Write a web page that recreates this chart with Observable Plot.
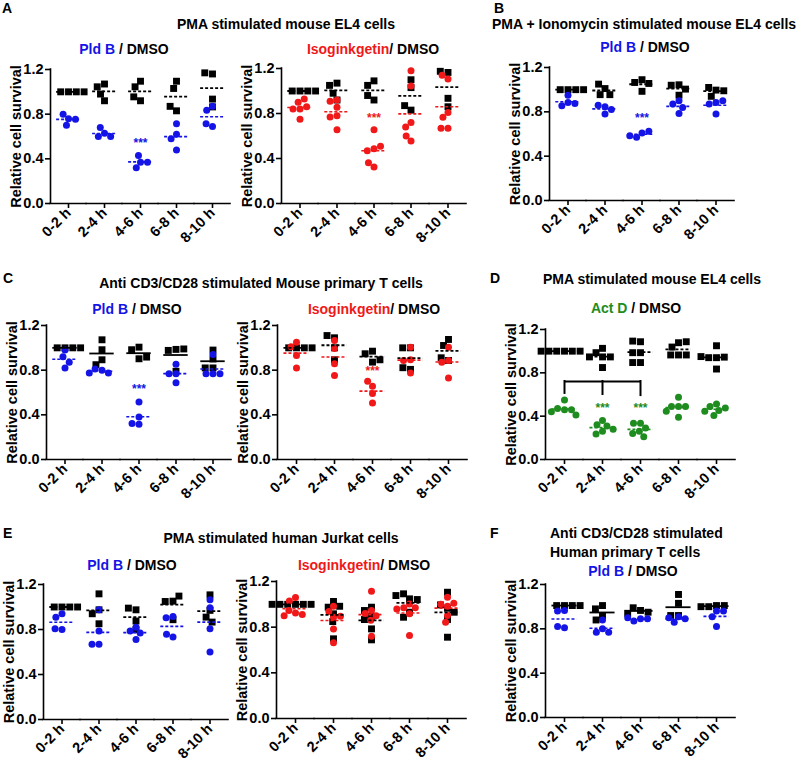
<!DOCTYPE html>
<html><head><meta charset="utf-8">
<script src="https://cdn.jsdelivr.net/npm/d3@7"></script>
<script src="https://cdn.jsdelivr.net/npm/@observablehq/plot@0.6"></script>
<style>
body{margin:0;background:#fff;}
#fig{position:relative;width:800px;height:768px;overflow:hidden;font-family:"Liberation Sans",Arial,sans-serif;font-weight:bold;color:#000;}
.t{position:absolute;white-space:nowrap;font-size:14px;line-height:1;}
.c{transform:translate(-50%,-50%);}
.l{transform:translateY(-50%);}
.panel{position:absolute;}
.panel svg{overflow:visible;}
.panel g[aria-label$="tick label"] text{font-size:14.5px !important;}
</style></head><body><div id="fig"></div>
<script>
// ---------- data ----------
const cats = ["0-2 h", "2-4 h", "4-6 h", "6-8 h", "8-10 h"];
const yTicks = [0, 0.4, 0.8, 1.2];

// A: PMA stimulated mouse EL4 cells
const A1_dmso = [[1.0,1.0,1.0,1.0],[1.07,1.045,0.92,0.98],[1.095,1.045,0.92,0.955],[1.095,1.03,0.83,0.87],[1.16,1.17,0.935,0.865]];
const A1_pldb = [[0.76,0.80,0.70,0.755],[0.63,0.68,0.60,0.60],[0.37,0.43,0.32,0.37],[0.62,0.715,0.58,0.48],[0.87,0.835,0.69,0.715]];
const A2_dmso = [[1.0,1.0,1.0,1.0],[1.07,1.05,0.92,0.98],[1.09,1.05,0.92,0.96],[1.10,1.03,0.83,0.87],[1.165,1.175,0.935,0.86]];
const A2_iso  = [[0.84,0.90,0.93,0.84,0.86,0.75],[0.92,0.855,0.91,0.78,0.77,0.655],[0.655,0.487,0.47,0.51,0.325,0.363],[1.18,1.045,0.72,0.68,0.555,0.60],[0.81,1.106,1.14,0.767,0.67,0.67]];
// B: PMA + Ionomycin
const B_dmso = [[1.0,1.0,1.0,1.0],[1.01,1.05,0.955,0.955],[1.09,1.065,0.985,1.056],[1.044,1.04,0.95,1.005],[0.996,1.02,0.94,0.99]];
const B_pldb = [[0.885,0.95,0.855,0.875],[0.846,0.86,0.78,0.82],[0.61,0.57,0.624,0.585],[0.90,0.87,0.786,0.84],[0.885,0.87,0.78,0.90]];
// C: Anti CD3/CD28 mouse primary T cells
const C1_dmso = [[1.0,1.0,1.0,1.0],[1.072,0.983,0.893,0.849],[1.006,0.983,0.902,0.917],[0.986,0.977,0.99,0.79],[0.98,0.90,0.82,0.82]];
const C1_pldb = [[0.98,0.92,0.82,0.87],[0.80,0.81,0.775,0.775],[0.38,0.515,0.316,0.322],[0.768,0.852,0.768,0.688],[0.94,0.768,0.768,0.768]];
const C2_dmso = [[1.0,1.0,1.0,1.0],[1.09,1.11,1.0,0.893],[0.97,0.947,0.872,0.893],[1.0,1.0,0.807,0.822],[1.075,1.021,0.887,0.911]];
const C2_iso  = [[1.05,0.932,0.819,1.01],[1.066,0.994,0.857,0.753],[0.655,0.70,0.59,0.506],[1.006,0.893,0.887,0.774],[0.887,1.006,0.87,0.73]];
// D: Act D
const D_dmso = [[1,1,1,1,1,1],[1.026,0.986,0.947,0.947,0.947,0.849],[0.986,1.087,1.093,0.895,0.895,0.986],[1.078,1.038,1.087,0.965,0.965,0.965],[1.05,0.94,0.94,0.945,0.835,0.95]];
const D_actd = [[0.55,0.46,0.47,0.46,0.44,0.41],[0.36,0.32,0.31,0.28,0.26,0.235],[0.335,0.335,0.29,0.26,0.24,0.21],[0.574,0.489,0.489,0.489,0.39,0.446],[0.513,0.489,0.452,0.476,0.446,0.406]];
const D_bracketTop = 0.72;
const D_bracketBottoms = [0.61, 0.60, 0.59];
// E: PMA stimulated human Jurkat cells
const E1_dmso = [[1.0,1.0,1.0,1.0],[0.975,1.117,0.94,0.851],[0.975,0.99,0.875,0.798],[1.052,1.049,1.097,0.887],[1.108,0.97,0.91,0.866]];
const E1_pldb = [[0.94,0.91,0.80,0.807],[0.975,0.786,0.668,0.668],[0.82,0.786,0.712,0.77],[0.916,0.905,0.733,0.757],[1.064,0.993,0.807,0.60]];
const E2_dmso = [[1,1,1,1,1,1],[1.025,0.917,0.975,0.983,0.849,0.698],[0.975,0.946,0.896,0.867,0.785,0.689],[1.048,1.092,1.042,1.077,0.931,0.887],[1.106,0.966,0.995,0.931,0.867,0.712]];
const E2_iso  = [[1.06,1.03,0.925,0.945,0.91,0.90],[0.983,0.937,0.887,0.785,0.663,0.895],[1.115,0.946,0.72,0.92,0.90,0.86],[0.917,1.004,0.969,0.727,0.97,0.96],[0.983,1.062,0.902,0.843,1.0,1.01]];
// F: Anti CD3/CD28 human primary T cells
const F_dmso = [[1.01,1.01,1.01,1.01],[1.01,0.98,0.92,0.88],[0.966,0.99,0.95,0.94],[1.11,1.03,0.92,0.92],[1.01,1.0,1.01,1.0]];
const F_pldb = [[0.966,0.96,0.81,0.82],[0.80,0.77,0.77,0.88],[0.89,0.87,0.89,0.90],[0.91,0.86,0.89,0.90],[0.96,0.91,0.96,0.82]];

// significance marks: [category, height]
const A1_stars = [["4-6 h", 0.54]];
const A2_stars = [["4-6 h", 0.76]];
const B_stars  = [["4-6 h", 0.745]];
const C1_stars = [["4-6 h", 0.63]];
const C2_stars = [["4-6 h", 0.79]];
const D_stars  = [["2-4 h", 0.475], ["4-6 h", 0.475]];

const BLUE = "#1414e6", RED = "#f01818", GREEN = "#1e8c1e";

// ---------- layout ----------
const panels = [
  {axisX:48,  y12:69,  y0:203, step:36.75, dmso:A1_dmso, drug:A1_pldb, color:BLUE,  stars:A1_stars},
  {axisX:280, y12:68,  y0:203, step:37.5,  dmso:A2_dmso, drug:A2_iso,  color:RED,   stars:A2_stars},
  {axisX:547, y12:67,  y0:200, step:37.75, dmso:B_dmso,  drug:B_pldb,  color:BLUE,  stars:B_stars},
  {axisX:44,  y12:325, y0:459, step:37.75, dmso:C1_dmso, drug:C1_pldb, color:BLUE,  stars:C1_stars, solid:true},
  {axisX:277, y12:325, y0:459, step:38,    dmso:C2_dmso, drug:C2_iso,  color:RED,   stars:C2_stars},
  {axisX:545, y12:329, y0:459, step:38,    dmso:D_dmso,  drug:D_actd,  color:GREEN, stars:D_stars, bracket:true},
  {axisX:42,  y12:584, y0:719, step:37.25, dmso:E1_dmso, drug:E1_pldb, color:BLUE,  stars:[]},
  {axisX:275, y12:581, y0:718, step:38.5,  dmso:E2_dmso, drug:E2_iso,  color:RED,   stars:[]},
  {axisX:545, y12:584, y0:717, step:38,    dmso:F_dmso,  drug:F_pldb,  color:BLUE,  stars:[], solid:true}
];

const fig = document.getElementById("fig");
const rows = arr => arr.flatMap((vals, i) => vals.map(v => ({cat: cats[i], v})));
const means = arr => arr.map((vals, i) => ({cat: cats[i], m: d3.mean(vals)}));

function drawPanel(p) {
  const ml = 50, mr = 4, mt = 6, mb = 52;
  const w = ml + 5 * p.step + mr;
  const h = mt + (p.y0 - p.y12) + mb;
  const marks = [
    Plot.ruleY([0], {y: d => d, strokeWidth: 1.6, strokeLinecap: "square"}),
    Plot.ruleX([cats[0]], {fx: d => d, x: () => -0.5, y1: () => 0, y2: () => 1.2, strokeWidth: 1.6, strokeLinecap: "square"}),
    Plot.axisY({ticks: yTicks, tickFormat: d3.format(".1f"), tickSize: 5, tickPadding: 2, label: null, strokeWidth: 1.6, fontSize: 14.5}),
    Plot.axisFx({anchor: "bottom", tickRotate: -45, tickSize: 5, tickPadding: 2, label: null, strokeWidth: 1.6, fontSize: 14.5}),
    Plot.text([cats[0]], {fx: d => d, frameAnchor: "left", textAnchor: "middle", dx: -34, rotate: -90, text: () => "Relative cell survival", fontSize: 14.5, fontWeight: "bold"}),
    Plot.dot(rows(p.dmso), Plot.dodgeX({anchor: "middle", padding: 0, y: "v", fx: "cat", r: 3.9, symbol: "square", fill: "black"})),
    Plot.dot(rows(p.drug), Plot.dodgeX({anchor: "middle", padding: 0, y: "v", fx: "cat", r: 3.5, fill: p.color})),
    Plot.ruleY(means(p.dmso), {fx: "cat", y: "m", x1: () => -0.33, x2: () => 0.33, stroke: "black", strokeWidth: 1.8, strokeDasharray: p.solid ? null : "3,2"}),
    Plot.ruleY(means(p.drug), {fx: "cat", y: "m", x1: () => -0.33, x2: () => 0.33, stroke: p.color, strokeWidth: 1.6, strokeDasharray: "3,2"}),
    Plot.text(p.stars, {fx: d => d[0], x: () => 0, y: d => d[1], text: () => "***", fill: p.color, fontSize: 12, fontWeight: "bold"})
  ];
  if (p.bracket) {
    const br = D_bracketBottoms.map((b, i) => ({cat: cats[i], x1: i === 0 ? 0 : -0.5, x2: i === 2 ? 0 : 0.5, bottom: b}));
    marks.push(Plot.ruleY(br, {fx: "cat", y: () => D_bracketTop, x1: "x1", x2: "x2", strokeWidth: 2}));
    marks.push(Plot.ruleX(br, {fx: "cat", x: () => 0, y1: "bottom", y2: () => D_bracketTop, strokeWidth: 2, strokeLinecap: "square"}));
  }
  const svg = Plot.plot({
    width: w, height: h,
    marginLeft: ml, marginRight: mr, marginTop: mt, marginBottom: mb,
    fx: {domain: cats, padding: 0},
    x: {domain: [-0.5, 0.5], axis: null},
    y: {domain: [0, 1.2]},
    style: {fontFamily: "Liberation Sans, Arial, sans-serif", fontWeight: "bold", fontSize: "14px", color: "black", background: "transparent", overflow: "visible"},
    marks
  });
  const div = document.createElement("div");
  div.className = "panel";
  div.style.left = (p.axisX - ml) + "px";
  div.style.top = (p.y12 - mt) + "px";
  div.appendChild(svg);
  fig.appendChild(div);
}
panels.forEach(drawPanel);

// ---------- texts ----------
function txt(html, x, y, cls, size) {
  const d = document.createElement("div");
  d.className = "t " + cls;
  d.style.left = x + "px"; d.style.top = y + "px";
  if (size) d.style.fontSize = size + "px";
  d.innerHTML = html;
  fig.appendChild(d);
}
const span = (c, s) => `<span style="color:${c}">${s}</span>`;
// panel letters
txt("A", 2, 8, "l", 14); txt("B", 494, 8, "l", 14);
txt("C", 3, 278, "l", 14); txt("D", 490, 278, "l", 14);
txt("E", 3, 533, "l", 14); txt("F", 490, 533, "l", 14);
// titles
txt("PMA stimulated mouse EL4 cells", 286, 24, "c");
txt("PMA + Ionomycin stimulated mouse EL4 cells", 492, 24, "l");
txt("Anti CD3/CD28 stimulated Mouse primary T cells", 261, 283, "c");
txt("PMA stimulated mouse EL4 cells", 652, 279, "c");
txt("PMA stimulated human Jurkat cells", 281, 538, "c");
txt("Anti CD3/CD28 stimulated", 550, 533, "l");
txt("Human primary T cells", 550, 552, "l");
// subtitles
txt(span(BLUE, "Pld B") + " / DMSO", 124, 49, "c");
txt(span(RED, "Isoginkgetin") + "/ DMSO", 373, 49, "c");
txt(span(BLUE, "Pld B") + " / DMSO", 645, 47, "c");
txt(span(BLUE, "Pld B") + " / DMSO", 137, 309, "c");
txt(span(RED, "Isoginkgetin") + "/ DMSO", 374, 309, "c");
txt(span(GREEN, "Act D") + " / DMSO", 636, 308, "c");
txt(span(BLUE, "Pld B") + " / DMSO", 132, 565, "c");
txt(span(RED, "Isoginkgetin") + "/ DMSO", 364, 565, "c");
txt(span(BLUE, "Pld B") + " / DMSO", 633, 571, "c");
</script></body></html>
